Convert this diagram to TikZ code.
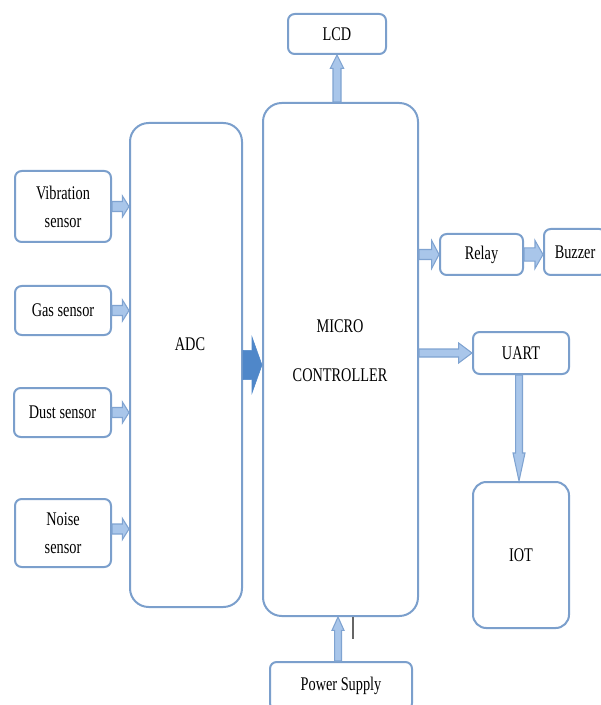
\documentclass[tikz,border=0pt]{standalone}
\usepackage{fontspec}
\newfontfamily\trm[FakeStretch=0.74]{Liberation Serif}
\usetikzlibrary{calc}
\definecolor{bxline}{HTML}{7B9FCC}
\definecolor{arfill}{HTML}{A9C6EA}
\definecolor{arline}{HTML}{7FA3D1}
\definecolor{darkar}{HTML}{4F87C9}
\newcommand\barrow[6][]{%
  \draw[#1] let \p1=(#2), \p2=(#3), \p3=($(\p2)!#6!(\p1)$) in
    ($(\p1)!#4!90:(\p2)$) -- ($(\p3)!#4!90:(\p2)$) -- ($(\p3)!#5!90:(\p2)$) --
    (\p2) -- ($(\p3)!#5!-90:(\p2)$) -- ($(\p3)!#4!-90:(\p2)$) -- ($(\p1)!#4!-90:(\p2)$) -- cycle;}
\begin{document}
\begin{tikzpicture}[x=0.75pt,y=-0.75pt,
  font=\trm\fontsize{14.5}{21}\selectfont,
  bx/.style={draw=bxline, line width=1.5pt, rounded corners=5pt, fill=white, inner sep=0pt, align=center},
  bigbx/.style={bx, rounded corners=14pt},
  lbl/.style={inner sep=0pt, align=center},
  lightar/.style={fill=arfill, draw=arline, line width=0.8pt, line join=miter},
  darkarrow/.style={fill=darkar, draw=darkar, line width=0.4pt}]
\useasboundingbox (0,0) rectangle (600,705);

% boxes
\node[bx, minimum width=72pt, minimum height=53.25pt] (vib) at (63,206.5) {Vibration\\sensor};
\node[bx, minimum width=72pt, minimum height=36.75pt] (gas) at (63,310.5) {Gas sensor};
\node[bx, minimum width=72.75pt, minimum height=36.75pt] (dust) at (62.5,412.5) {Dust sensor};
\node[bx, minimum width=72pt, minimum height=51pt] (noise) at (63,533) {Noise\\sensor};
\node[bigbx, minimum width=84pt, minimum height=363pt] (adc) at (186,365) {};
\node[bigbx, minimum width=116.25pt, minimum height=384.75pt] (mc) at (340.5,359.5) {};
\node[bx, minimum width=73.5pt, minimum height=30pt] (lcd) at (337,34) {LCD};
\node[bx, minimum width=62.25pt, minimum height=30.75pt] (relay) at (481.5,254.5) {Relay};
\node[bx, minimum width=46.5pt, minimum height=34.5pt] (buzzer) at (575,252) {Buzzer};
\node[bx, minimum width=72pt, minimum height=31.5pt] (uart) at (521,353) {UART};
\node[bx, rounded corners=10pt, minimum width=72pt, minimum height=109.5pt] (iot) at (521,555) {IOT};
\node[bx, minimum width=106.5pt, minimum height=36pt] (ps) at (341,686) {Power Supply};

% labels inside the large boxes
\node[lbl] (adctext) at (190,344) {ADC};
\node[lbl] (mctext) at (340,351) {MICRO\\[16pt]CONTROLLER};

% block arrows
\barrow[lightar]{vib.east}{adc.west |- vib.east}{3.75pt}{8pt}{5pt}
\barrow[lightar]{gas.east}{adc.west |- gas.east}{3.75pt}{8pt}{5pt}
\barrow[lightar]{dust.east}{adc.west |- dust.east}{3.75pt}{8pt}{5pt}
\barrow[lightar]{$(noise.east)+(0,-4)$}{$(adc.west |- noise.east)+(0,-4)$}{3.75pt}{8pt}{5pt}
\barrow[darkarrow]{adc.east}{mc.west |- adc.east}{11pt}{21pt}{7.5pt}
\barrow[lightar]{mc.north -| lcd.south}{lcd.south}{3pt}{5pt}{10pt}
\barrow[lightar]{mc.east |- relay.west}{relay.west}{3.75pt}{10.5pt}{5.5pt}
\barrow[lightar]{relay.east}{buzzer.west |- relay.east}{5pt}{10.5pt}{6pt}
\barrow[lightar]{mc.east |- uart.west}{uart.west}{3pt}{7.5pt}{10pt}
\barrow[lightar]{$(uart.south)+(-2,0)$}{$(iot.north)+(-2,0)$}{2.6pt}{4.5pt}{21pt}
\barrow[lightar]{$(ps.north)+(-3,0)$}{$(mc.south -| ps.north)+(-3,0)$}{2.6pt}{4.5pt}{10pt}

% small grey tick below the controller
\coordinate (tickA) at (353,617);
\coordinate (tickB) at (353,639);
\draw[gray!80!black, line width=0.8pt] (tickA) -- (tickB);
\end{tikzpicture}
\end{document}
